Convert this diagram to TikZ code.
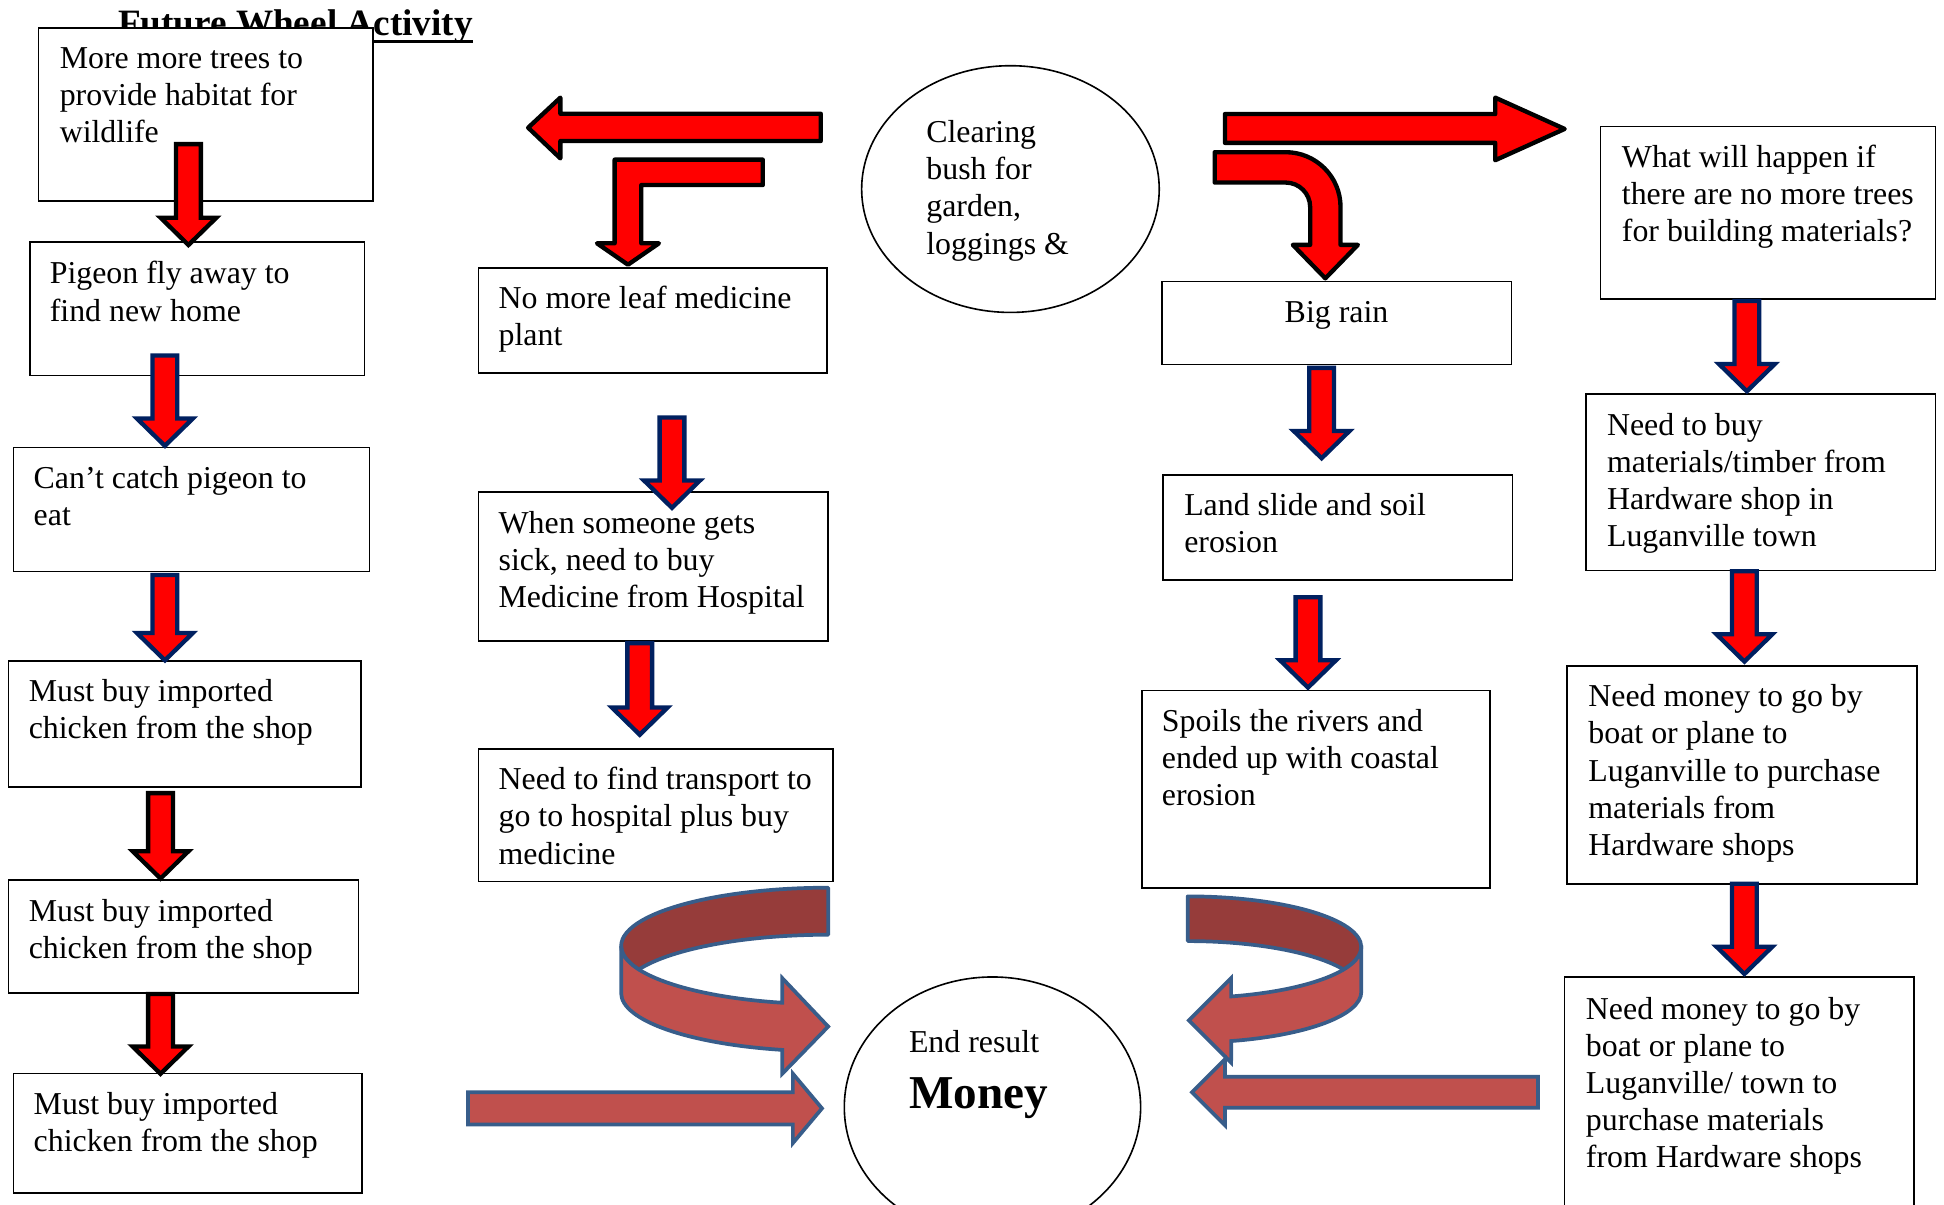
\documentclass[tikz,border=0pt]{standalone}
\usepackage{fontspec}
\setmainfont{Liberation Serif}
\usetikzlibrary{shapes.geometric}
\definecolor{navy}{RGB}{0,32,96}
\definecolor{arrred}{RGB}{255,0,0}
\definecolor{cfront}{RGB}{192,80,77}
\definecolor{cback}{RGB}{150,60,58}
\definecolor{cline}{RGB}{56,93,138}
\newcommand\tl[1]{\begin{tabular}[t]{@{}l@{}}#1\end{tabular}}
\newcommand\dnarrow[4]{%
  \draw[#1] ({#2-10},{#3+1.75}) -- ({#2+10},{#3+1.75}) -- ({#2+10},{#4-24.4}) -- ({#2+22.5},{#4-24.4}) -- (#2,{#4-2.4}) -- ({#2-22.5},{#4-24.4}) -- ({#2-10},{#4-24.4}) -- cycle;}
\tikzset{
  box/.style={draw=black, line width=1.3pt, fill=white, inner sep=0pt, outer sep=0pt, anchor=north west},
  oval/.style={draw=black, line width=1.3pt, fill=white, ellipse, inner sep=0pt},
  txt/.style={inner sep=0pt, anchor=base west, font=\fontsize{25.7}{30}\selectfont},
  blk/.style={draw=black, fill=arrred, line width=3.5pt, line join=miter},
  nav/.style={draw=navy, fill=arrred, line width=3.5pt, line join=miter},
  fat/.style={draw=cline, fill=cfront, line width=3pt, line join=miter},
  fatback/.style={draw=cline, fill=cback, line width=3pt, line join=round},
}
\begin{document}
\begin{tikzpicture}[x=1pt,y=-1pt]
\useasboundingbox (0,0) rectangle (1568,971.2);
\clip (0,0) rectangle (1568,971.2);
% title
\node[inner sep=0pt, anchor=base west, font=\fontsize{30}{36}\selectfont\bfseries] (title) at (95,29) {Future Wheel Activity};
\draw[line width=2pt] ([yshift=-4.5pt]title.base west) -- ([yshift=-4.5pt]title.base east);
% left column boxes
\node[box, minimum width=270pt, minimum height=139.5pt] (b1) at (31,22.5) {};
\node[box, minimum width=270pt, minimum height=108pt] (b2) at (24,195) {};
\node[box, minimum width=287pt, minimum height=100pt] (b3) at (11,361) {};
\node[box, minimum width=284pt, minimum height=102pt] (b4) at (7,533) {};
\node[box, minimum width=282pt, minimum height=91pt] (b5) at (7,710) {};
\node[box, minimum width=281pt, minimum height=96pt] (b6) at (11,866) {};
% middle-left boxes
\node[box, minimum width=281pt, minimum height=85pt] (m1) at (386,216) {};
\node[box, minimum width=282pt, minimum height=120pt] (m2) at (386,397) {};
\node[box, minimum width=286pt, minimum height=107pt] (m3) at (386,604) {};
% middle-right boxes
\node[box, minimum width=282pt, minimum height=67pt] (r1) at (937,227) {};
\node[box, minimum width=282pt, minimum height=85pt] (r2) at (938,383) {};
\node[box, minimum width=281pt, minimum height=159pt] (r3) at (921,557) {};
% right column boxes
\node[box, minimum width=270pt, minimum height=139pt] (s1) at (1291,102) {};
\node[box, minimum width=282pt, minimum height=142pt] (s2) at (1279,318) {};
\node[box, minimum width=282pt, minimum height=176pt] (s3) at (1264,537) {};
\node[box, minimum width=282pt, minimum height=200pt] (s4) at (1262,788) {};
% ellipses
\node[oval, minimum width=240pt, minimum height=199pt] (e1) at (815,152.5) {};
\node[oval, minimum width=239pt, minimum height=210pt] (e2) at (800.5,893) {};
% texts
\node[txt] (t1) at (48,55) {\tl{More more trees to\\provide habitat for\\wildlife}};
\node[txt] (t2) at (40,229) {\tl{Pigeon fly away to\\find new home}};
\node[txt] (t3) at (27,394) {\tl{Can’t catch pigeon to\\eat}};
\node[txt] (t4) at (23,566) {\tl{Must buy imported\\chicken from the shop}};
\node[txt] (t5) at (23,743) {\tl{Must buy imported\\chicken from the shop}};
\node[txt] (t6) at (27,899) {\tl{Must buy imported\\chicken from the shop}};
\node[txt] (t7) at (402,249) {\tl{No more leaf medicine\\plant}};
\node[txt] (t8) at (402,430) {\tl{When someone gets\\sick, need to buy\\Medicine from Hospital}};
\node[txt] (t9) at (402,637) {\tl{Need to find transport to\\go to hospital plus buy\\medicine}};
\node[txt] (t10) at (747,115) {\tl{Clearing\\bush for\\garden,\\loggings \&}};
\node[txt, anchor=base] (t11) at (1078,260) {Big rain};
\node[txt] (t12) at (955,416) {\tl{Land slide and soil\\erosion}};
\node[txt] (t13) at (937,590) {\tl{Spoils the rivers and\\ended up with coastal\\erosion}};
\node[txt] (t14) at (1308,135) {\tl{What will happen if\\there are no more trees\\for building materials?}};
\node[txt] (t15) at (1296,351) {\tl{Need to buy\\materials/timber from\\Hardware shop in\\Luganville town}};
\node[txt] (t16) at (1281,570) {\tl{Need money to go by\\boat or plane to\\Luganville to purchase\\materials from\\Hardware shops}};
\node[txt] (t17) at (1279,822) {\tl{Need money to go by\\boat or plane to\\Luganville/ town to\\purchase materials\\from Hardware shops}};
\node[txt] (t18) at (733,849) {End result};
\node[inner sep=0pt, anchor=base west, font=\fontsize{38}{44}\selectfont\bfseries] (t19) at (733,894) {Money};
% top black arrows
\draw[blk, line join=round] (662,91.75) -- (662,113.75) -- (452,113.75) -- (452,127.75) -- (426,103) -- (452,78.75) -- (452,91.75) -- cycle;
\draw[blk, line join=round] (615.25,128.75) -- (495.75,128.75) -- (495.75,196.25) -- (481.5,196.25) -- (506.5,213.5) -- (531.5,196.25) -- (517.25,196.25) -- (517.25,149.25) -- (615.25,149.25) -- cycle;
\draw[blk, line join=round] (988,92) -- (1206,92) -- (1206,78.75) -- (1262,104) -- (1206,129.25) -- (1206,115.25) -- (988,115.25) -- cycle;
\draw[blk, line join=round] (979.75,122.75) -- (1037,122.75) arc[start angle=270, end angle=360, radius=44.25] -- (1081.25,197.5) -- (1095.25,197.5) -- (1069,224.5) -- (1042.75,197.5) -- (1056.75,197.5) -- (1056.75,167) arc[start angle=0, end angle=-90, radius=19.75] -- (979.75,147.25) -- cycle;
% vertical arrows
\dnarrow{blk}{152}{114.5}{200}
\dnarrow{nav}{133}{285}{362}
\dnarrow{nav}{133}{462}{535}
\dnarrow{blk}{129.5}{638}{711}
\dnarrow{blk}{129.5}{800}{868.5}
\dnarrow{nav}{542}{335}{412}
\dnarrow{nav}{516}{517}{595}
\dnarrow{nav}{1066}{295}{372}
\dnarrow{nav}{1055}{480}{557}
\dnarrow{nav}{1409}{241}{318}
\dnarrow{nav}{1407}{459}{536}
\dnarrow{nav}{1407}{711}{788}
% curved 3D arrows
\draw[fatback] (668,716) arc[start angle=270, end angle=156.2, x radius=167, y radius=47] arc[start angle=203.8, end angle=270, x radius=167, y radius=47] -- cycle;
\draw[fat] (501,763) -- (501,801) arc[start angle=180, end angle=102.8, x radius=167, y radius=47] -- (631,866) -- (668,828) -- (631,789) -- (631,808.8) arc[start angle=102.8, end angle=180, x radius=167, y radius=47] -- cycle;
\draw[fatback] (958,723) arc[start angle=270, end angle=386.1, x radius=140, y radius=41] arc[start angle=-26.1, end angle=-90, x radius=140, y radius=41] -- cycle;
\draw[fat] (1098,764) -- (1098,800) arc[start angle=0, end angle=75.5, x radius=140, y radius=41] -- (993,857) -- (959,823) -- (993,789) -- (993,803.7) arc[start angle=75.5, end angle=0, x radius=140, y radius=41] -- cycle;
% straight fat arrows
\draw[fat] (377.5,881) -- (639.5,881) -- (639.5,866) -- (663,894) -- (639.5,922) -- (639.5,907) -- (377.5,907) -- cycle;
\draw[fat] (1240.5,868.5) -- (988,868.5) -- (988,854.5) -- (961.5,881) -- (988,907.5) -- (988,893.5) -- (1240.5,893.5) -- cycle;
\end{tikzpicture}
\end{document}
